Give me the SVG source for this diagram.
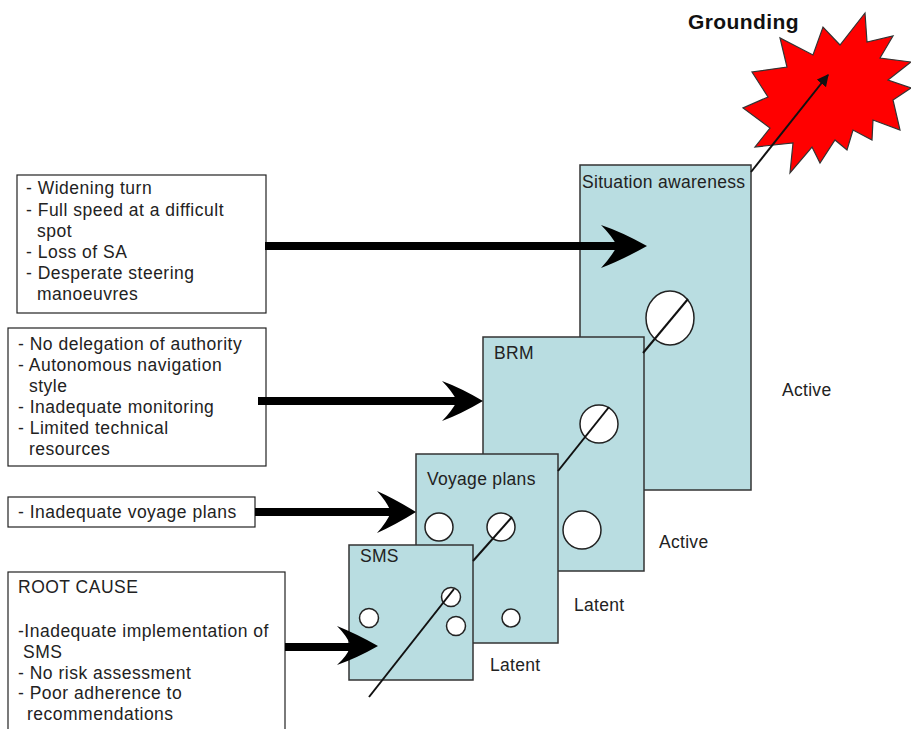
<svg xmlns="http://www.w3.org/2000/svg" width="911" height="729" viewBox="0 0 911 729">
<style>
.box{fill:#fff;stroke:#222;stroke-width:1.2}
.slice{fill:#b9dde1;stroke:#333;stroke-width:1.5}
.hole{fill:#fff;stroke:#222;stroke-width:1.5}
.t{font-family:"Liberation Sans",Arial,sans-serif;font-size:17.5px;fill:#222;letter-spacing:0.5px}
.lbl{font-family:"Liberation Sans",Arial,sans-serif;font-size:17.5px;fill:#222;letter-spacing:0.3px}
.ray{stroke:#111;stroke-width:2;fill:none}
.arr{fill:#000}
</style>
<defs>
<marker id="ah" viewBox="0 0 10 10" refX="9" refY="5" markerWidth="6" markerHeight="6" orient="auto"><path d="M0,0 L10,5 L0,10 z" fill="#111"/></marker>
</defs>
<rect width="911" height="729" fill="#fff"/>

<g id="grounding">
<polygon points="865,13 867,42 893,36 880,58 911,62 888,80 911,88 893,100 900,130 873,120 872,140 853,130 847,150 835,140 820,163 812,147 790,173 793,143 755,147 770,128 743,108 768,97 752,72 787,67 780,38 813,55 823,27 840,45" fill="#f00" stroke="#333" stroke-width="1.2"/>
<text x="688" y="29" font-family="'Liberation Sans',Arial,sans-serif" font-size="21" font-weight="bold" fill="#111" letter-spacing="0.4">Grounding</text>
</g>

<g id="box-sa">
<rect class="box" x="17" y="175" width="249" height="138"/>
<text class="t" x="26" y="194">- Widening turn</text>
<text class="t" x="26" y="216">- Full speed at a difficult</text>
<text class="t" x="37" y="237">spot</text>
<text class="t" x="26" y="258">- Loss of SA</text>
<text class="t" x="26" y="279">- Desperate steering</text>
<text class="t" x="37" y="300">manoeuvres</text>
</g>
<g id="box-brm">
<rect class="box" x="8" y="328" width="258" height="138"/>
<text class="t" x="18" y="350">- No delegation  of authority</text>
<text class="t" x="18" y="371">- Autonomous navigation</text>
<text class="t" x="29" y="392">style</text>
<text class="t" x="18" y="413">- Inadequate monitoring</text>
<text class="t" x="18" y="434">- Limited technical</text>
<text class="t" x="29" y="455">resources</text>
</g>
<g id="box-voyage">
<rect class="box" x="8" y="497" width="247" height="30"/>
<text class="t" x="18" y="518">- Inadequate voyage plans</text>
</g>
<g id="box-root">
<rect class="box" x="8" y="572" width="277" height="170"/>
<text class="t" x="18" y="593">ROOT CAUSE</text>
<text class="t" x="18" y="637">-Inadequate implementation of</text>
<text class="t" x="23" y="658">SMS</text>
<text class="t" x="18" y="679">- No risk assessment</text>
<text class="t" x="18" y="699">- Poor adherence to</text>
<text class="t" x="27" y="720">recommendations</text>
</g>

<g id="slice-sa">
<rect class="slice" x="580" y="165" width="171" height="325"/>
<text class="lbl" x="582" y="188">Situation awareness</text>
<ellipse class="hole" cx="670" cy="318" rx="24" ry="27"/>
</g>
<g id="slice-brm">
<rect class="slice" x="483" y="337" width="161" height="234"/>
<text class="lbl" x="494" y="359">BRM</text>
<circle class="hole" cx="599" cy="424" r="19"/>
</g>
<g id="slice-voyage">
<rect class="slice" x="416" y="454" width="142" height="189"/>
<text class="lbl" x="427" y="485">Voyage plans</text>
<circle class="hole" cx="439" cy="527" r="14"/>
<circle class="hole" cx="501" cy="527" r="14"/>
<circle class="hole" cx="582" cy="530" r="19"/>
<circle class="hole" cx="511" cy="618" r="9"/>
</g>
<g id="slice-sms">
<rect class="slice" x="349" y="545" width="124" height="135"/>
<text class="lbl" x="360" y="562">SMS</text>
<circle class="hole" cx="369" cy="618" r="9.5"/>
<circle class="hole" cx="451" cy="597" r="9.5"/>
<circle class="hole" cx="456" cy="626" r="9.5"/>
</g>

<g id="labels">
<text class="lbl" x="782" y="396">Active</text>
<text class="lbl" x="659" y="548">Active</text>
<text class="lbl" x="574" y="611">Latent</text>
<text class="lbl" x="490" y="671">Latent</text>
</g>

<g id="connectors">
<rect class="arr" x="265" y="242" width="356" height="8"/>
<path class="arr" d="M647,246 Q622,232 601,225 Q612,236 617,246 Q612,256 601,268 Q622,260 647,246 Z"/>
<rect class="arr" x="258" y="397" width="199" height="8"/>
<path class="arr" d="M483,401 Q461,388 442,381 Q452,391 457,401 Q452,411 442,421 Q461,414 483,401 Z"/>
<rect class="arr" x="255" y="508" width="137" height="8"/>
<path class="arr" d="M416,512 Q395,499 377,491 Q387,502 391,512 Q387,522 377,533 Q395,525 416,512 Z"/>
<rect class="arr" x="285" y="643" width="67" height="8"/>
<path class="arr" d="M378,646 Q357,634 337,626 Q347,636 351,646 Q347,656 337,665 Q357,658 378,646 Z"/>
<line class="ray" x1="369" y1="697" x2="454" y2="589"/>
<line class="ray" x1="473" y1="561" x2="512" y2="517"/>
<line class="ray" x1="558" y1="471" x2="609" y2="407"/>
<line class="ray" x1="643" y1="353" x2="688" y2="299"/>
<line class="ray" x1="751" y1="172" x2="828" y2="75" marker-end="url(#ah)"/>
</g>
</svg>
